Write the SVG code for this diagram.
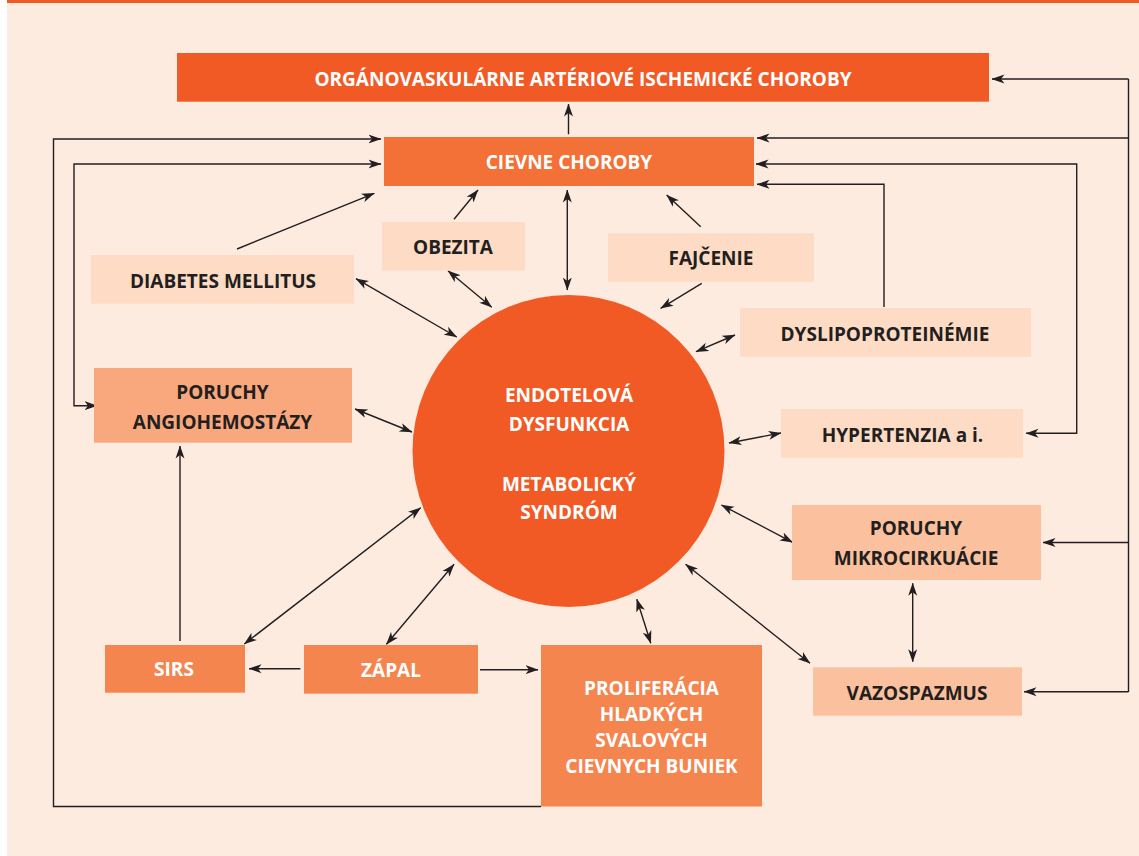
<svg xmlns="http://www.w3.org/2000/svg" width="1139" height="856" viewBox="0 0 1139 856">
<defs>
<marker id="ah" viewBox="0 0 13 10" refX="12.5" refY="5" markerWidth="13" markerHeight="10" markerUnits="userSpaceOnUse" orient="auto-start-reverse">
<path d="M0,0.5 L13,5 L0,9.5 L3.5,5 Z" fill="#231f20"/>
</marker>
<style>
.t{font-family:"Open Sans","Liberation Sans",sans-serif;font-weight:700;font-size:19px;text-anchor:middle;fill:#231f20}
.w{fill:#ffffff}
.c{fill:none;stroke:#231f20;stroke-width:1.4}
.e{marker-end:url(#ah)}
.b{marker-start:url(#ah);marker-end:url(#ah)}
.dark{fill:#f15a24}
.med{fill:#f37036}
.sal{fill:#f5854f}
.ang{fill:#f9a87d}
.mik{fill:#fbc19e}
.lt{fill:#fddbc4}
</style>
</defs>
<rect x="0" y="0" width="1139" height="856" fill="#ffffff"/>
<rect x="7" y="0" width="1132" height="856" fill="#fdebdf"/>
<rect x="7" y="0" width="1132" height="3" fill="#f15a24"/>

<g id="connectors">
<path class="c e" d="M1128.5,79 H992"/>
<path class="c" d="M1128.5,79 V692"/>
<path class="c e" d="M1128.5,138 H757"/>
<path class="c e" d="M1128.5,542.5 H1043"/>
<path class="c e" d="M1128.5,691.7 H1024"/>
<path class="c b" d="M756,164 H1076.7 V433.3 H1026"/>
<path class="c e" d="M884,307 V184.3 H757"/>
<path class="c e" d="M541,806.5 H53.5 V139 H381"/>
<path class="c b" d="M381,164 H74 V405.7 H97"/>
<path class="c e" d="M568.5,134.3 V104"/>
<path class="c e" d="M180,641 V446"/>
<path class="c e" d="M300.4,668.7 H249"/>
<path class="c e" d="M480,669.7 H538"/>
<path class="c b" d="M420.7,507.7 L244.3,644"/>
<path class="c b" d="M454,564.3 L386.4,644.3"/>
<path class="c b" d="M636.8,599.3 L650.8,643.3"/>
<path class="c b" d="M685.6,564.3 L810,663.3"/>
<path class="c b" d="M721.4,505 L792.6,542.3"/>
<path class="c b" d="M912.7,583.3 V661.7"/>
<path class="c b" d="M729,443 L781,433"/>
<path class="c b" d="M696,351.7 L735,335"/>
<path class="c e" d="M701.7,283.3 L660.7,308.3"/>
<path class="c e" d="M700.7,226.7 L666.7,195"/>
<path class="c b" d="M567.3,190 V290"/>
<path class="c e" d="M454,219.3 L478,190"/>
<path class="c b" d="M448,270.7 L491.7,307.3"/>
<path class="c e" d="M237,249 L374.3,193.3"/>
<path class="c b" d="M356,278.7 L456.7,337"/>
<path class="c b" d="M355,409 L412,432"/>
</g>

<g id="n-organo">
<rect class="dark" x="177" y="53" width="812" height="48.7"/>
<text class="t w" x="583" y="86">ORGÁNOVASKULÁRNE ARTÉRIOVÉ ISCHEMICKÉ CHOROBY</text>
</g>
<g id="n-cievne">
<rect class="med" x="384" y="137" width="370" height="49"/>
<text class="t w" x="569" y="169">CIEVNE CHOROBY</text>
</g>
<g id="n-obezita">
<rect class="lt" x="382" y="222" width="143" height="48.7"/>
<text class="t" x="453" y="254">OBEZITA</text>
</g>
<g id="n-fajcenie">
<rect class="lt" x="608" y="233.3" width="206" height="48.4"/>
<text class="t" x="711" y="265">FAJČENIE</text>
</g>
<g id="n-diabetes">
<rect class="lt" x="91" y="255" width="263" height="48.7"/>
<text class="t" x="223" y="288">DIABETES MELLITUS</text>
</g>
<g id="n-dyslipo">
<rect class="lt" x="740" y="308" width="291" height="48.7"/>
<text class="t" x="885" y="341">DYSLIPOPROTEINÉMIE</text>
</g>
<g id="n-angio">
<rect class="ang" x="94" y="368" width="258" height="74.7"/>
<text class="t" x="222.5" y="399">PORUCHY</text>
<text class="t" x="222.5" y="429">ANGIOHEMOSTÁZY</text>
</g>
<g id="n-hyper">
<rect class="lt" x="781" y="409" width="242" height="48.7"/>
<text class="t" x="902.5" y="442">HYPERTENZIA a i.</text>
</g>
<g id="n-endotel">
<circle class="dark" cx="568.5" cy="451" r="156"/>
<text class="t w" x="569" y="401.7">ENDOTELOVÁ</text>
<text class="t w" x="569" y="431">DYSFUNKCIA</text>
<text class="t w" x="569" y="490.7">METABOLICKÝ</text>
<text class="t w" x="569" y="519">SYNDRÓM</text>
</g>
<g id="n-mikro">
<rect class="mik" x="792" y="505" width="249" height="75"/>
<text class="t" x="916" y="535">PORUCHY</text>
<text class="t" x="916" y="565">MIKROCIRKUÁCIE</text>
</g>
<g id="n-vazo">
<rect class="mik" x="813" y="667.3" width="209" height="48.4"/>
<text class="t" x="917" y="700">VAZOSPAZMUS</text>
</g>
<g id="n-sirs">
<rect class="sal" x="105" y="645" width="140" height="47.7"/>
<text class="t w" x="174" y="676">SIRS</text>
</g>
<g id="n-zapal">
<rect class="sal" x="304" y="645" width="174" height="48.7"/>
<text class="t w" x="391" y="677">ZÁPAL</text>
</g>
<g id="n-prolif">
<rect class="sal" x="541" y="645" width="221" height="161.5"/>
<text class="t w" x="651.5" y="695">PROLIFERÁCIA</text>
<text class="t w" x="651.5" y="721">HLADKÝCH</text>
<text class="t w" x="651.5" y="747">SVALOVÝCH</text>
<text class="t w" x="651.5" y="773">CIEVNYCH BUNIEK</text>
</g>
</svg>
